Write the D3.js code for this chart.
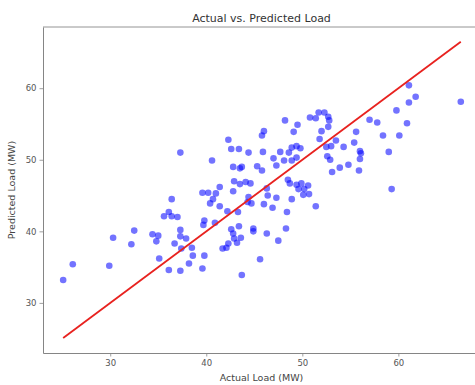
<!DOCTYPE html>
<html>
<head>
<meta charset="utf-8">
<script src="https://cdn.jsdelivr.net/npm/d3@7"></script>
<style>
  body { margin: 0; background: #fff; }
  svg { display: block; font-family: "DejaVu Sans", sans-serif; }
</style>
</head>
<body>
<div id="chart"></div>
<script>
// actual vs predicted load (MW)
var actual = [25.1, 26.1, 29.9, 30.3, 32.2, 32.5, 34.4, 35.0, 34.8, 35.1, 36.1, 36.4, 36.1, 35.6, 36.4, 37.0,
  36.7, 37.3, 37.3, 37.9, 37.4, 37.3, 38.5, 38.6, 38.2, 37.3, 39.7, 42.6, 43.4, 42.8, 44.9, 44.9,
  46.3, 48.3, 47.5, 42.9, 43.6, 43.2, 42.3, 42.1, 41.7, 39.8, 39.6, 45.6, 43.7, 40.9, 48.2, 49.5,
  45.8, 46.0, 49.1, 42.3, 42.6, 43.4, 44.4, 45.9, 47.7, 48.6, 48.9, 49.4, 49.8, 40.6, 47.0, 48.1,
  48.9, 49.4, 42.8, 43.5, 43.7, 45.3, 45.8, 47.3, 42.9, 43.5, 44.1, 44.6, 48.5, 48.7, 49.4, 41.4,
  39.6, 40.2, 41.0, 42.8, 46.3, 40.7, 40.4, 41.4, 44.4, 44.3, 44.7, 46.4, 47.3, 46.0, 46.9, 48.9,
  48.4, 42.2, 43.3, 39.8, 50.8, 51.4, 51.7, 52.3, 52.7, 52.8, 52.7, 52.0, 51.8, 52.5, 53.0, 53.5,
  54.3, 55.4, 55.6, 52.6, 52.9, 54.8, 53.9, 53.1, 56.0, 56.1, 56.0, 55.9, 57.0, 57.8, 58.4, 60.1,
  59.8, 60.9, 61.1, 61.1, 61.8, 66.5, 59.0, 59.3, 49.9, 50.6, 49.6, 50.2, 50.7, 50.1, 51.4];
var predicted = [33.2, 35.4, 35.2, 39.1, 38.2, 40.1, 39.6, 39.4, 38.6, 36.2, 34.6, 44.5, 42.7, 42.1, 42.1, 42.0,
  38.3, 40.2, 39.3, 39.0, 37.6, 34.5, 37.7, 36.6, 35.5, 51.0, 40.9, 40.3, 40.7, 39.7, 40.4, 40.0,
  39.7, 40.4, 38.7, 39.0, 39.1, 38.4, 38.3, 37.7, 37.6, 36.6, 34.8, 36.1, 33.9, 41.2, 55.5, 54.9,
  53.4, 54.0, 53.9, 52.8, 51.5, 51.5, 51.0, 51.1, 51.1, 51.0, 51.7, 51.9, 51.6, 49.9, 50.2, 49.9,
  49.9, 50.3, 49.0, 48.8, 49.0, 49.1, 48.5, 49.2, 47.0, 46.6, 46.9, 46.7, 47.2, 46.7, 46.5, 46.2,
  45.4, 45.4, 45.3, 45.6, 46.0, 44.5, 43.9, 43.5, 44.8, 44.1, 43.9, 45.0, 44.7, 43.8, 43.3, 44.5,
  42.7, 42.8, 42.7, 41.5, 55.9, 55.8, 56.6, 56.6, 56.0, 55.5, 54.6, 54.0, 52.9, 51.8, 51.9, 52.7,
  51.8, 52.4, 53.9, 50.5, 50.0, 49.3, 48.9, 48.3, 51.2, 50.9, 50.1, 48.5, 55.6, 55.2, 53.4, 53.4,
  56.9, 55.1, 58.0, 60.4, 58.8, 58.1, 51.1, 45.9, 46.7, 46.4, 45.9, 45.9, 45.2, 45.1, 43.5];
var xTicks = [30, 40, 50, 60];
var yTicks = [30, 40, 50, 60];
var xDomain = [23.0, 68.5];
var yDomain = [23.0, 68.55];

var width = 475, height = 385;
var margin = { left: 43, top: 27, bottom: 353, right: 480 };

var svg = d3.select("#chart").append("svg")
  .attr("width", width)
  .attr("height", height);

var x = d3.scaleLinear().domain(xDomain).range([margin.left, margin.right]);
var y = d3.scaleLinear().domain(yDomain).range([margin.bottom, margin.top]);

// frame (right spine is off the picture)
svg.append("line")
  .attr("x1", margin.left).attr("x2", margin.right)
  .attr("y1", margin.top).attr("y2", margin.top)
  .attr("stroke", "#888").attr("stroke-width", 0.9);

var xAxis = svg.append("g")
  .attr("transform", "translate(0," + margin.bottom + ")")
  .call(d3.axisBottom(x).tickValues(xTicks).tickSize(3.5).tickSizeOuter(0).tickPadding(3));
var yAxis = svg.append("g")
  .attr("transform", "translate(" + margin.left + ",0)")
  .call(d3.axisLeft(y).tickValues(yTicks).tickSize(3.5).tickSizeOuter(0).tickPadding(3));

[xAxis, yAxis].forEach(function (g) {
  g.select(".domain").attr("stroke", "#777").attr("stroke-width", 0.9);
  g.selectAll(".tick line").attr("stroke", "#888").attr("stroke-width", 0.8);
  g.selectAll(".tick text").attr("fill", "#555").style("font-size", "8.5px")
    .style("font-family", "DejaVu Sans, sans-serif");
});

var pts = actual.map(function (a, i) { return [a, predicted[i]]; });

svg.append("g").selectAll("circle")
  .data(pts)
  .enter()
  .append("circle")
  .attr("cx", function (d) { return x(d[0]); })
  .attr("cy", function (d) { return y(d[1]); })
  .attr("r", 3.3)
  .attr("fill", "#0000ff")
  .attr("fill-opacity", 0.55);

// perfect prediction line
var ext = d3.extent(actual);
svg.append("line")
  .attr("x1", x(ext[0])).attr("y1", y(ext[0]))
  .attr("x2", x(ext[1])).attr("y2", y(ext[1]))
  .attr("stroke", "#e8221f")
  .attr("stroke-width", 1.8);

svg.append("text")
  .attr("x", (margin.left + margin.right) / 2)
  .attr("y", 22)
  .attr("text-anchor", "middle")
  .attr("fill", "#333")
  .style("font-size", "11px")
  .text("Actual vs. Predicted Load");

svg.append("text")
  .attr("x", (margin.left + margin.right) / 2)
  .attr("y", 381)
  .attr("text-anchor", "middle")
  .attr("fill", "#444")
  .style("font-size", "9.5px")
  .text("Actual Load (MW)");

svg.append("text")
  .attr("transform", "translate(15," + (margin.top + margin.bottom) / 2 + ") rotate(-90)")
  .attr("text-anchor", "middle")
  .attr("fill", "#444")
  .style("font-size", "9.5px")
  .text("Predicted Load (MW)");
</script>
</body>
</html>
